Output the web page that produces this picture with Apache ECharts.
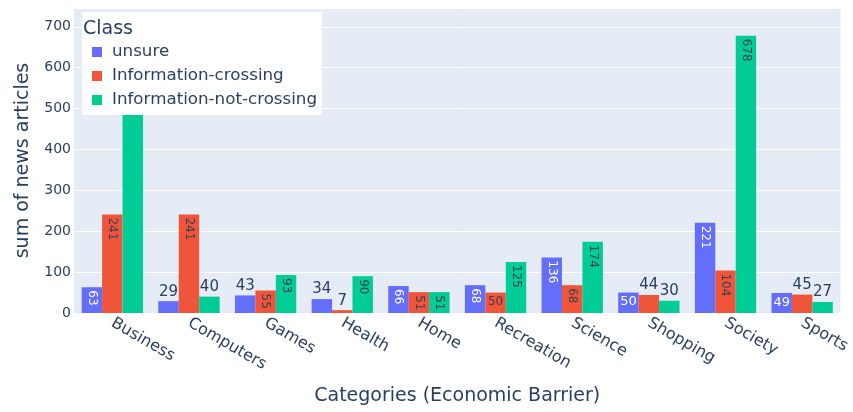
<!DOCTYPE html>
<html>
<head>
<meta charset="utf-8">
<script src="https://cdn.jsdelivr.net/npm/echarts@6/dist/echarts.min.js"></script>
<style>
html,body{margin:0;padding:0;background:#fff;}
#chart{width:853px;height:412px;}
</style>
</head>
<body>
<div id="chart"></div>
<script>
const categories = ["Business","Computers","Games","Health","Home","Recreation","Science","Shopping","Society","Sports"];
const seriesNames = ["unsure","Information-crossing","Information-not-crossing"];
const unsure = [63,29,43,34,66,68,136,50,221,49];
const infoCrossing = [241,241,55,7,51,50,68,44,104,45];
const infoNotCrossing = [600,40,93,90,51,125,174,30,678,27];

// label placement per bar: r = inside rotated, h = inside horizontal, o = outside
const modes = [
  ["r","o","o","o","r","r","r","h","r","h"],
  ["r","r","r","o","r","h","r","o","r","o"],
  ["r","o","r","r","r","r","r","o","r","o"]
];
const colors = ["#636efa","#EF553B","#00cc96"];
const insideText = ["#ffffff","#3d4050","#3d4050"];
const FONT = "DejaVu Sans";
const TXT = "#2a3f5f";

function buildData(values, si){
  return values.map((v,i)=>{
    const m = modes[si][i];
    let label;
    if (m === "r") {
      label = {show:true, position:"insideTop", rotate:-90, align:"left", verticalAlign:"middle",
               distance:3, fontSize:12, color:insideText[si], fontFamily:FONT};
    } else if (m === "h") {
      label = {show:true, position:"insideTop", rotate:0, distance:3, fontSize:(si===0?13:12),
               color:insideText[si], fontFamily:FONT};
    } else {
      label = {show:true, position:"top", rotate:0, distance:2, fontSize:15, color:TXT, fontFamily:FONT};
    }
    return {value:v, label};
  });
}

const allValues = [unsure, infoCrossing, infoNotCrossing];
const chart = echarts.init(document.getElementById('chart'), null, {renderer:'canvas'});
chart.setOption({
  animation:false,
  textStyle:{fontFamily:FONT},
  title:{text:"Class", left:83, top:20, z:60, padding:0,
         textStyle:{fontSize:19, fontWeight:"normal", color:TXT, fontFamily:FONT}},
  legend:{
    orient:"vertical", left:82, top:12, z:50,
    backgroundColor:"#ffffff",
    padding:[31,5,6,10],
    itemWidth:10, itemHeight:10, itemGap:6,
    icon:"rect",
    textStyle:{fontSize:16.7, color:TXT, fontFamily:FONT, lineHeight:18, padding:[0,0,0,5]},
    data:seriesNames
  },
  grid:{left:74, right:9, top:8, bottom:99, containLabel:false, show:true, backgroundColor:"#E5ECF6", borderWidth:0},
  xAxis:{
    type:"category", data:categories,
    axisLine:{show:false}, axisTick:{show:false},
    axisLabel:{rotate:-30, fontSize:16, color:TXT, fontFamily:FONT, margin:9, interval:0},
    name:"Categories (Economic Barrier)", nameLocation:"middle", nameGap:74,
    nameTextStyle:{fontSize:19, color:TXT, fontFamily:FONT}
  },
  yAxis:{
    type:"value", min:0, max:746, interval:100,
    axisLine:{show:false}, axisTick:{show:false},
    splitLine:{lineStyle:{color:"#ffffff", width:1}},
    axisLabel:{fontSize:14, color:TXT, fontFamily:FONT, margin:3, showMaxLabel:false},
    name:"sum of news articles", nameLocation:"middle", nameGap:41,
    nameTextStyle:{fontSize:19, color:TXT, fontFamily:FONT}
  },
  series: allValues.map((vals,si)=>({
    name:seriesNames[si], type:"bar",
    barGap:"0%", barCategoryGap:"20%",
    itemStyle:{color:colors[si]},
    z:2,
    data:buildData(vals,si)
  }))
});
</script>
</body>
</html>
